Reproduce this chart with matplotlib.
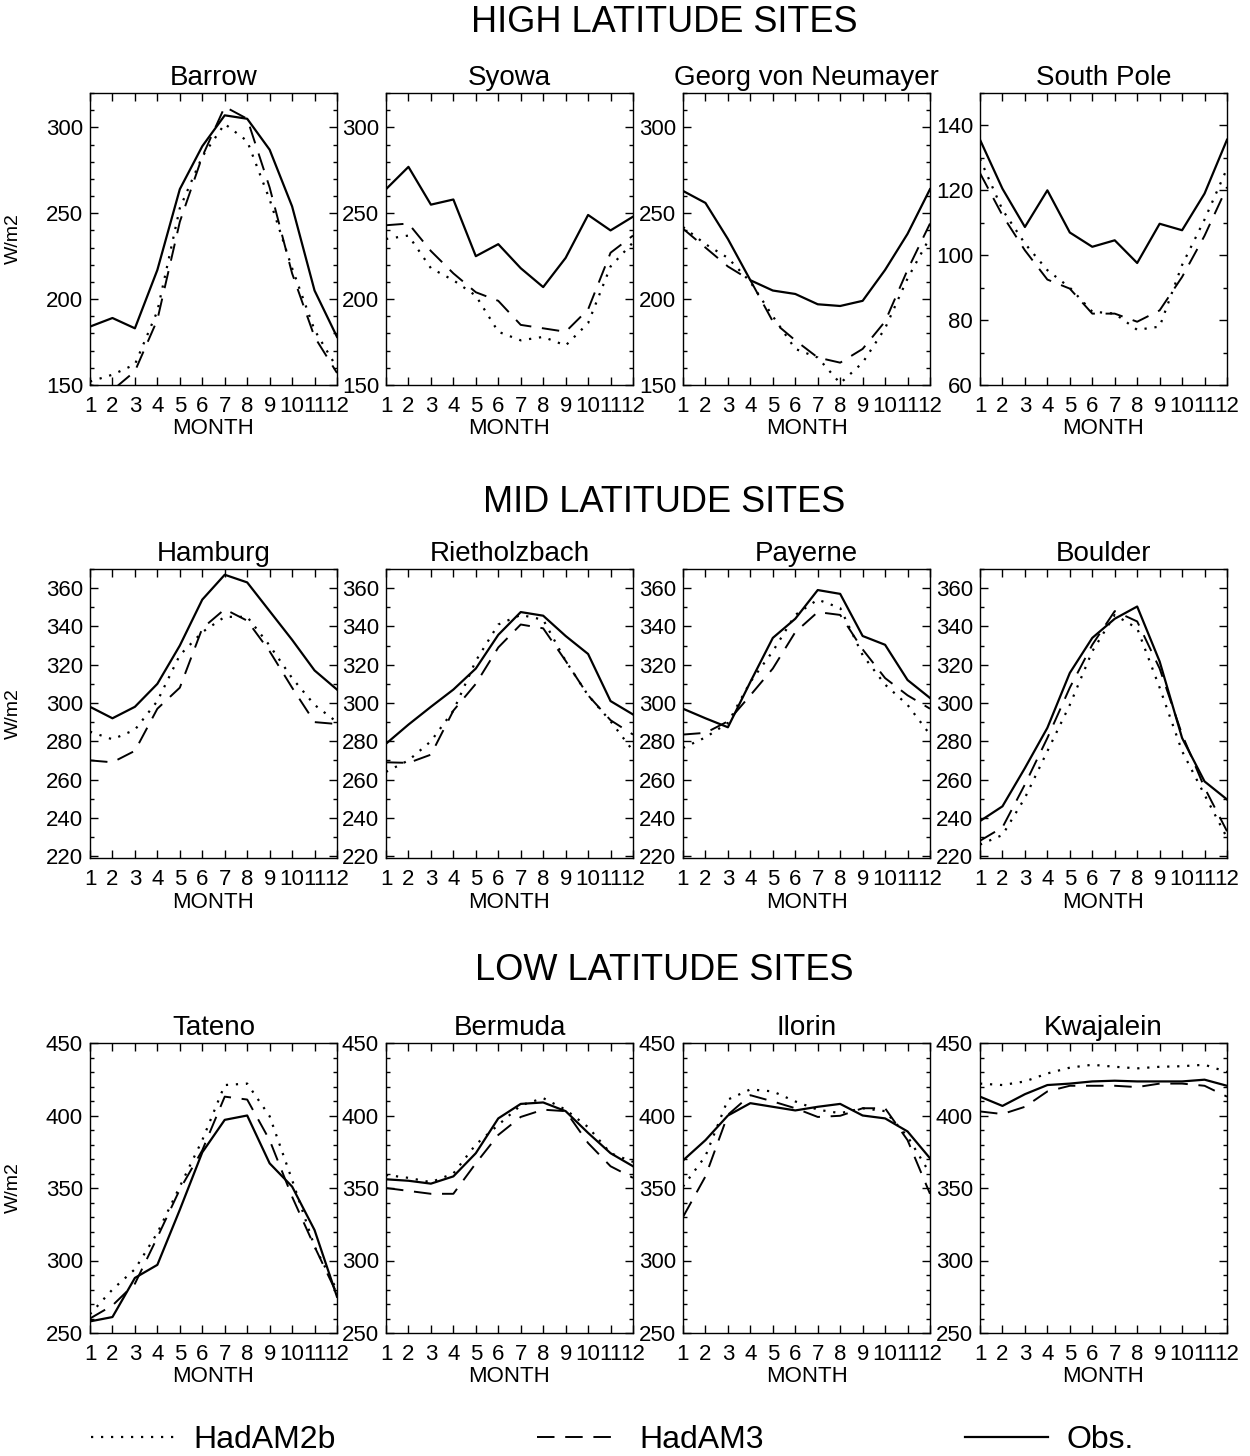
import matplotlib
matplotlib.use('Agg')
import matplotlib.pyplot as plt
from matplotlib.lines import Line2D
from matplotlib.ticker import MultipleLocator

plt.rcParams['font.family'] = ['Liberation Sans', 'DejaVu Sans']

months = list(range(1, 13))

# HIGH latitude sites
barrow_2b  = [152, 156, 162, 193, 253, 283, 302, 292, 258, 218, 182, 160]
barrow_3   = [150, 147, 158, 188, 245, 283, 312, 305, 265, 215, 178, 157]
barrow_obs = [184, 189, 183, 217, 264, 289, 307, 305, 287, 254, 205, 178]

syowa_2b  = [235, 237, 218, 211, 202, 181, 176, 178, 173, 186, 219, 233]
syowa_3   = [243, 244, 228, 215, 204, 199, 185, 183, 181, 194, 227, 237]
syowa_obs = [264, 277, 255, 258, 225, 232, 218, 207, 224, 249, 240, 248]

neumayer_2b  = [242, 232, 224, 210, 190, 171, 166, 151, 163, 183, 212, 236]
neumayer_3   = [241, 230, 219, 211, 187, 176, 166, 163, 171, 187, 217, 244]
neumayer_obs = [263, 256, 235, 211, 205, 203, 197, 196, 199, 217, 238, 264]

southpole_2b  = [129.7, 114, 103.6, 95.4, 90, 82.6, 82, 77, 78, 97, 111, 126.7]
southpole_3   = [125.3, 112.3, 101.5, 92.5, 89.7, 82, 82, 79.5, 83, 93.3, 106, 121]
southpole_obs = [135.6, 120.5, 108.7, 120, 107, 102.6, 104.6, 97.6, 109.7, 107.7, 119, 135.6]

# MID latitude sites
hamburg_2b  = [285, 281, 286, 301, 325, 337, 345, 345, 330, 313, 299, 290]
hamburg_3   = [270, 269, 275, 297, 308, 339, 349, 343, 327, 308, 290, 289]
hamburg_obs = [298, 292, 298, 310, 330, 354, 367, 363, 348, 333, 317, 307]

rieth_2b  = [264, 270, 280, 296, 322, 341, 346, 343.5, 322, 304, 290.5, 275]
rieth_3   = [269, 268.7, 273, 296, 310, 329, 341, 339, 322, 304, 291, 283.5]
rieth_obs = [278.7, 288.7, 298, 307, 318, 335.6, 347.5, 345.6, 335, 325.6, 301, 294]

payerne_2b  = [276.5, 282, 289.6, 311, 327, 346, 354, 349.6, 325, 309.6, 299, 283.5]
payerne_3   = [283.5, 284.4, 290.4, 304, 318, 337, 347.5, 346, 328, 313, 304, 297]
payerne_obs = [297, 292, 287.3, 311, 334, 344, 359, 357, 335, 330.4, 312, 302.6]

boulder_2b  = [226, 231, 250.4, 274.8, 299, 327, 346, 339, 308, 274.8, 252, 229.6]
boulder_3   = [228, 235, 257.4, 281.7, 308, 330.4, 348, 342.6, 318, 283.5, 255.7, 233]
boulder_obs = [238.3, 246, 266, 287, 315.7, 334, 344, 350.4, 321.7, 281.7, 259, 249.6]

# LOW latitude sites
tateno_2b  = [263, 280, 294, 319, 351, 383, 421, 422, 399.5, 355.6, 309.6, 279.5]
tateno_3   = [260, 269, 284, 316, 349, 376, 413, 411, 383, 344, 309.6, 277]
tateno_obs = [258, 261, 288, 297, 335, 374.6, 397, 400, 367, 351, 321, 275]

bermuda_2b  = [359, 357, 354, 360, 380, 393.5, 407, 412, 404, 392, 374, 368]
bermuda_3   = [350, 348, 346, 346, 367, 386.6, 399, 404, 403, 381, 365, 357]
bermuda_obs = [356, 355, 353, 358, 374, 398, 408, 409, 403, 388, 374, 365]

ilorin_2b  = [351, 372, 411, 418, 416.6, 409.7, 404, 401.6, 405, 403, 385.5, 360]
ilorin_3   = [330, 358, 400.5, 414, 409.7, 405, 399, 399.8, 405, 405, 383, 346]
ilorin_obs = [369, 383, 400, 408.5, 406, 403.5, 406, 408, 400, 398, 389, 370.5]

kwaj_2b  = [422, 421, 423.5, 429, 433, 435, 433.6, 432.5, 433.6, 434, 435, 430]
kwaj_3   = [402.8, 401, 406, 416.6, 420.5, 420.5, 420.5, 419.6, 422, 422, 420.5, 413]
kwaj_obs = [413, 406.6, 414.7, 421, 422, 423.5, 424, 423.5, 423.5, 423.5, 424.7, 420.5]

# (title, HadAM2b, HadAM3, Obs, ylim, major tick step)
rows = [
    ('HIGH LATITUDE SITES', [
        ('Barrow', barrow_2b, barrow_3, barrow_obs, (150, 320), 50),
        ('Syowa', syowa_2b, syowa_3, syowa_obs, (150, 320), 50),
        ('Georg von Neumayer', neumayer_2b, neumayer_3, neumayer_obs, (150, 320), 50),
        ('South Pole', southpole_2b, southpole_3, southpole_obs, (60, 150), 20),
    ]),
    ('MID LATITUDE SITES', [
        ('Hamburg', hamburg_2b, hamburg_3, hamburg_obs, (219, 370), 20),
        ('Rietholzbach', rieth_2b, rieth_3, rieth_obs, (219, 370), 20),
        ('Payerne', payerne_2b, payerne_3, payerne_obs, (219, 370), 20),
        ('Boulder', boulder_2b, boulder_3, boulder_obs, (219, 370), 20),
    ]),
    ('LOW LATITUDE SITES', [
        ('Tateno', tateno_2b, tateno_3, tateno_obs, (250, 450), 50),
        ('Bermuda', bermuda_2b, bermuda_3, bermuda_obs, (250, 450), 50),
        ('Ilorin', ilorin_2b, ilorin_3, ilorin_obs, (250, 450), 50),
        ('Kwajalein', kwaj_2b, kwaj_3, kwaj_obs, (250, 450), 50),
    ]),
]

W, H = 1250, 1456
fig = plt.figure(figsize=(W / 100, H / 100), dpi=100)

lefts = [90, 386, 683, 980]
width = 247
row_px = [(93, 385), (569, 858), (1043, 1333)]
head_y = [22, 503, 970]

dot_style = (0, (1, 3.5))
dash_style = (0, (9, 5.5))

for r, (head, panels) in enumerate(rows):
    top, bot = row_px[r]
    fig.text(664 / W, 1 - head_y[r] / H, head, ha='center', va='center', fontsize=26)
    for c, (name, m2b, m3, obs, ylim, step) in enumerate(panels):
        ax = fig.add_axes([lefts[c] / W, 1 - bot / H, width / W, (bot - top) / H])
        ax.plot(months, m2b, color='black', lw=1.6, linestyle=dot_style)
        ax.plot(months, m3, color='black', lw=1.4, linestyle=dash_style)
        ax.plot(months, obs, color='black', lw=1.6)
        ax.set_xlim(1, 12)
        ax.set_ylim(*ylim)
        ax.set_xticks(months)
        ax.yaxis.set_major_locator(MultipleLocator(step))
        ax.yaxis.set_minor_locator(MultipleLocator(10))
        ax.tick_params(which='both', direction='in', top=True, right=True, width=1)
        ax.tick_params(which='major', length=6)
        ax.tick_params(which='minor', length=3)
        ax.tick_params(axis='x', labelsize=16, pad=8)
        ax.tick_params(axis='y', labelsize=16, pad=5)
        for s in ax.spines.values():
            s.set_linewidth(1.0)
        ax.set_title(name, fontsize=20, pad=6)
        ax.set_xlabel('MONTH', fontsize=16, labelpad=1)
        if c == 0:
            ax.set_ylabel('W/m2', fontsize=14)
            ax.yaxis.set_label_coords(-0.275, 0.5)

handles = [
    Line2D([], [], color='black', lw=1.6, linestyle=dot_style),
    Line2D([], [], color='black', lw=1.4, linestyle=dash_style),
    Line2D([], [], color='black', lw=1.6),
]
fig.legend(handles, ['HadAM2b', 'HadAM3', 'Obs.'], loc='center', ncol=3,
           bbox_to_anchor=(0.49, 16 / H), frameon=False, fontsize=23,
           handlelength=2.6, handletextpad=0.6, columnspacing=6.3)

fig.savefig('out.png', dpi=100)
